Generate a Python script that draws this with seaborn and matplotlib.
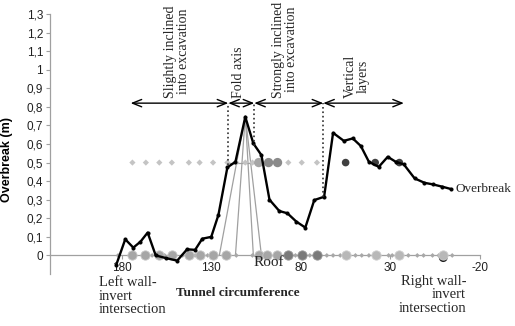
import numpy as np
import pandas as pd
import matplotlib
matplotlib.use('Agg')
import matplotlib.pyplot as plt
import seaborn as sns

sns.set_theme(style='white')
plt.rcParams['font.family'] = ['Liberation Sans', 'DejaVu Sans']
SERIF = ['Liberation Serif', 'DejaVu Serif']

# overbreak profile along the tunnel circumference (degrees)
angle = [183, 178, 173.5, 169.5, 165.5, 161, 155, 149, 143.5, 139, 135, 130, 126,
         121, 116.5, 111, 106.5, 102, 97.5, 92, 87.5, 82.5, 77.5, 72.5, 67, 62, 56,
         51, 46.5, 42, 36.5, 31.5, 27, 22.5, 16.5, 11, 6.5, 1, -4]
overbreak = [-0.05, 0.087, 0.042, 0.074, 0.123, 0.0, -0.015, -0.028, 0.033, 0.03,
             0.09, 0.10, 0.218, 0.474, 0.504, 0.746, 0.603, 0.54, 0.30, 0.239, 0.227,
             0.182, 0.15, 0.298, 0.316, 0.66, 0.617, 0.63, 0.589, 0.504, 0.477, 0.531,
             0.504, 0.49, 0.415, 0.391, 0.383, 0.37, 0.357]

# indicator markers (0.5 = present)
diam_hi_x = [174, 166.5, 159, 152, 142.5, 136.5, 129, 121, 116, 111, 107, 87, 79.5, 71]
diam_lo_x = [182, 163, 156, 146, 139, 132, 116, 107, 83, 75, 65.5, 62, 58, 49.5, 46,
             42, 31, 29, 20, 15, 11.5, 6.5, 3, -4.5]
circ_hi_mid_x = [103.5]
circ_hi_gray_x = [98, 93]
circ_hi_dark_x = [55, 38.5, 25]
circ_lo_gray_x = [174, 167, 159, 152, 142.5, 136.5, 129, 121.5, 103.5, 99, 93.5]
circ_lo_dark_x = [87, 79.5, 70.8]
circ_lo_light_x = [55, 38.3, 25, 0.5]

# fold axis lines
fold_outer_x = [125.5, 111, 102]
fold_inner_x = [116.5, 111, 106.5]
fold_y = [0, 0.75, 0]
fold_mid_x = [121, 103.5]

# structural zones
bound_x = [120.5, 106, 67.5]
bound_low = [0.485, 0.59, 0.316]
zone_start = [175, 120.5, 106, 67.5]
zone_end = [120.5, 106, 67.5, 22.5]
zone_text_x = [149, 115, 89, 49]
zone_labels = ['Slightly inclined\ninto excavation', 'Fold axis',
               'Strongly inclined\ninto excavation', 'Vertical\nlayers']
arrow_y = 0.82

fig = plt.figure(figsize=(5.15, 3.26), dpi=100)
ax = fig.add_axes([50 / 515, 52 / 326, 430 / 515, 260 / 326])

# fold axis (gray thin lines)
ax.plot(fold_outer_x, fold_y, color='#a0a0a0', lw=0.9, zorder=2)
ax.plot(fold_inner_x, fold_y, color='#a0a0a0', lw=0.9, zorder=2)
ax.plot(fold_mid_x, [0.5, 0.5], color='#a0a0a0', lw=0.9, zorder=2)

# markers
sns.scatterplot(x=diam_lo_x, y=[0] * len(diam_lo_x), marker='D', s=6, color='#a8a8a8',
                edgecolor='none', ax=ax, zorder=3)
sns.scatterplot(x=diam_hi_x, y=[0.5] * len(diam_hi_x), marker='D', s=10, color='#c4c4c4',
                edgecolor='none', ax=ax, zorder=3)
sns.scatterplot(x=circ_lo_gray_x, y=[0] * len(circ_lo_gray_x), s=45, color='#a6a6a6',
                edgecolor='#c8c8c8', linewidth=0.6, ax=ax, zorder=3)
sns.scatterplot(x=circ_lo_dark_x, y=[0] * len(circ_lo_dark_x), s=45, color='#7a7a7a',
                edgecolor='#9a9a9a', linewidth=0.6, ax=ax, zorder=3)
sns.scatterplot(x=[0.5], y=[-0.012], s=40, color='#202020', edgecolor='none', ax=ax, zorder=3)
sns.scatterplot(x=circ_lo_light_x, y=[0] * len(circ_lo_light_x), s=45, color='#b8b8b8',
                edgecolor='#d0d0d0', linewidth=0.6, ax=ax, zorder=3)
sns.scatterplot(x=circ_hi_mid_x, y=[0.5], s=45, color='#a6a6a6', edgecolor='none', ax=ax, zorder=3)
sns.scatterplot(x=circ_hi_gray_x, y=[0.5] * 2, s=45, color='#8a8a8a', edgecolor='none', ax=ax, zorder=3)
sns.scatterplot(x=circ_hi_dark_x, y=[0.5] * 3, s=30, color='#404040', edgecolor='none', ax=ax, zorder=3)

# overbreak line
df = pd.DataFrame({'angle': angle, 'overbreak': overbreak})
sns.lineplot(data=df, x='angle', y='overbreak', sort=False, color='black', lw=1.7,
             marker='o', markersize=2.2, markeredgecolor='black', ax=ax, zorder=4)

# zone boundaries + arrows
for bx, bl in zip(bound_x, bound_low):
    ax.plot([bx, bx], [bl, arrow_y], color='#303030', ls=':', lw=1.2, zorder=5)
for x0, x1 in zip(zone_start, zone_end):
    ax.annotate('', xy=(x1, arrow_y), xytext=(x0, arrow_y),
                arrowprops=dict(arrowstyle='<->,head_length=0.55,head_width=0.22',
                                color='black', lw=1, shrinkA=0, shrinkB=0))
for tx, lab in zip(zone_text_x, zone_labels):
    ax.text(tx, 0.85, lab, rotation=90, ha='center', va='bottom', fontsize=10,
            family=SERIF, linespacing=1.0)

ax.set_xlim(220, -20)
ax.set_ylim(-0.1, 1.3)
ax.set_xticks([180, 130, 80, 30, -20])
ax.set_xticklabels(['180', '130', '80', '30', '-20'])
yt = np.round(np.arange(0, 1.31, 0.1), 1)
ax.set_yticks(yt)
ax.set_yticklabels([('%g' % v).replace('.', ',') for v in yt])

for s in ['top', 'right']:
    ax.spines[s].set_visible(False)
ax.spines['bottom'].set_position(('data', 0))
ax.spines['bottom'].set_color('#a0a0a0')
ax.spines['left'].set_color('#a0a0a0')
ax.spines['bottom'].set_linewidth(0.9)
ax.spines['left'].set_linewidth(0.9)
ax.tick_params(axis='both', direction='out', length=3, width=0.8, color='#a0a0a0',
               labelsize=8.5, labelcolor='#202020', pad=2, left=True, bottom=True)

ax.set_xlabel('')
ax.set_ylabel('Overbreak (m)', fontsize=9, fontweight='bold', color='black')
ax.yaxis.set_label_coords(-0.085, 0.44)

ax.text(192.8, -0.113, 'Left wall-\ninvert\nintersection', ha='left', va='top',
        fontsize=10.5, family=SERIF, linespacing=1.05, clip_on=False)
ax.text(-12.2, -0.105, 'Right wall-\ninvert\nintersection', ha='right', va='top',
        fontsize=10.5, family=SERIF, linespacing=1.05, multialignment='right', clip_on=False)
ax.text(98, -0.04, 'Roof', ha='center', va='center', fontsize=11, family=SERIF)
ax.text(115, -0.2, 'Tunnel circumference', ha='center', va='center', fontsize=9.5,
        fontweight='bold', family=SERIF, clip_on=False)
ax.text(-6.5, 0.36, 'Overbreak', ha='left', va='center', fontsize=9.5, family=SERIF,
        clip_on=False)

fig.savefig('out.png', dpi=100)
